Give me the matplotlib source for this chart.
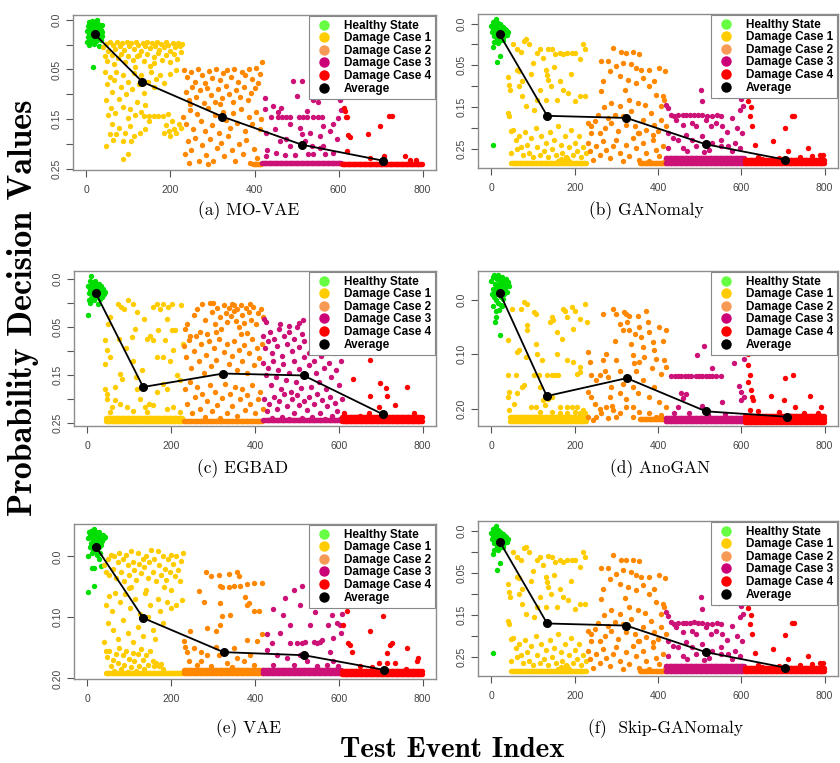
import matplotlib.pyplot as plt
from matplotlib.lines import Line2D
import numpy as np

CLASSES = ["Healthy State", "Damage Case 1", "Damage Case 2", "Damage Case 3", "Damage Case 4"]
POINT_COLORS = ["#00dd00", "#ffcc00", "#ff8800", "#cc1177", "#ff0000"]
LEGEND_COLORS = ["#66ff44", "#ffcc00", "#f79a55", "#cc0077", "#ff0000"]
CAPTIONS = ["(a) MO-VAE", "(b) GANomaly", "(c) EGBAD", "(d) AnoGAN", "(e) VAE", "(f)  Skip-GANomaly"]
XTICKS = [0, 200, 400, 600, 800]
YLAB4 = ["0.0", "0.05", "0.15", "0.25"]
YLAB3 = ["0.0", "0.10", "0.20"]

# ---- (a) MO-VAE  (y in tick-index units, 0 = top label)
A_H = [(1,.22),(3,.12),(4,.35),(5,.05),(7,.28),(8,.15),(9,.42),(10,.08),(11,.30),(12,.20),(13,.02),
       (14,.38),(15,.12),(16,.25),(17,.48),(18,.05),(19,.18),(20,.33),(21,.10),(22,.28),(23,.42),
       (24,.15),(25,.0),(26,.22),(27,.36),(28,.08),(29,.52),(30,.18),(31,.30),(32,.12),(33,.25),
       (34,.40),(35,.20),(36,.32),(37,.10),(38,.24),(2,.45),(6,.50),(16,.94)]
A_D1 = [(40,.55),(46,.48),(52,.62),(57,.45),(63,.50),(68,.58),(73,.45),(79,.52),(85,.47),(90,.60),
        (96,.45),(101,.53),(107,.46),(112,.58),(118,.45),(123,.50),(129,.62),(134,.46),(140,.53),
        (145,.45),(151,.57),(156,.47),(162,.52),(167,.45),(173,.60),(178,.48),(184,.54),(189,.45),
        (195,.50),(200,.62),(206,.46),(211,.55),(217,.47),(222,.52),(228,.48),
        (43,.72),(50,.82),(60,.70),(66,.88),(75,.76),(83,.68),(92,.85),(99,.72),(110,.80),(116,.95),
        (126,.70),(137,.83),(143,.68),(152,.92),(160,.74),(170,.66),(181,.80),(190,.70),(198,.84),
        (208,.68),(215,.78),(225,.64),(120,.72),(160,.86),
        (45,1.05),(50,1.30),(55,1.15),(62,1.45),(66,1.22),(71,1.05),(77,1.60),(82,1.35),(88,1.12),
        (93,1.50),(98,1.25),(104,1.80),(109,1.40),(114,1.08),(120,1.65),(126,1.30),(131,1.12),
        (138,1.48),(146,1.25),(153,1.05),(160,1.35),(166,1.20),(176,1.12),(184,1.28),(200,1.10),
        (214,1.02),(46,1.62),(52,1.92),(58,1.78),(68,1.88),(86,1.76),(100,1.98),(116,1.92),
        (130,1.86),(140,1.72),(150,1.93),(160,1.93),(171,1.93),(182,1.93),(193,1.90),(136,1.94),
        (47,2.55),(56,2.30),(63,2.42),(70,2.30),(78,2.18),(86,2.44),(92,2.28),(98,2.70),(86,2.80),
        (106,2.45),(114,2.35),(127,2.28),(60,2.10),(190,2.12),(196,2.25),(203,2.05),(208,2.20),
        (214,2.28),(220,2.10),(226,2.18),(200,2.35),(184,2.28),(150,2.05),(104,2.15),(140,2.20)]
A_D2 = [(232,1.02),(240,1.15),(250,1.05),(258,1.25),(266,1.0),(275,1.12),(283,1.28),(292,1.03),
        (300,1.18),(309,1.0),(318,1.22),(326,1.08),(335,1.02),(344,1.15),(352,1.0),(361,1.25),
        (370,1.05),(378,1.12),(387,1.0),(395,1.2),(404,.98),(412,1.1),(417,.84),(409,1.28),
        (236,1.45),(244,1.62),(252,1.35),(261,1.55),(270,1.42),(279,1.68),(288,1.38),(296,1.52),
        (305,1.65),(314,1.4),(322,1.58),(331,1.33),(340,1.5),(349,1.66),(357,1.42),(366,1.55),
        (375,1.35),(384,1.62),(392,1.48),(401,1.38),(247,1.7),(318,1.7),
        (230,1.95),(238,2.1),(246,1.82),(254,2.2),(263,1.9),(272,2.05),(281,2.25),(289,1.78),
        (298,2.12),(306,1.92),(315,2.28),(324,1.85),(333,2.02),(342,2.18),(350,1.88),(359,2.08),
        (368,1.8),(377,2.25),(386,1.95),(395,2.1),(403,1.85),(412,2.2),(416,2.0),
        (234,2.7),(242,2.45),(250,2.62),(259,2.38),(268,2.85),(276,2.52),(285,2.72),(294,2.4),
        (302,2.85),(311,2.58),(320,2.48),(328,2.75),(337,2.35),(346,2.62),(354,2.85),(363,2.5),
        (372,2.7),(380,2.42),(389,2.88),(398,2.6),(406,2.78),(245,2.88),(290,2.9)]
A_D3 = [(425,1.57),(425,1.8),(428,2.28),(428,2.75),(430,2.62),(456,1.86),(466,1.95),(492,1.24),
        (500,1.54),(512,1.24),(440,1.95),(455,1.95),(475,1.95),(485,1.95),(505,1.95),(515,1.95),
        (525,1.95),(540,1.95),(550,1.95),(560,1.95),(508,2.18),(512,2.31),(532,2.28),(556,2.35),
        (563,2.14),(579,2.25),(587,2.11),(599,1.98),(603,1.61),(606,1.82),(587,2.68),(563,2.55),
        (540,2.71),(484,2.55),(472,2.72),(452,2.68),(476,2.41),(540,1.61),(550,1.65),(524,1.84),
        (464,1.77),(444,1.74),(484,2.11),(536,2.55),(556,2.58),(567,2.71),(528,2.71),(496,2.72),
        (448,2.2),(460,2.45),(520,2.45),(596,2.4)]
A_D4 = [(613,1.78),(615,1.84),(617,1.96),(620,1.95),(623,2.33),(627,2.36),(671,2.31),(698,2.14),
        (720,1.94),(728,1.94),(708,2.75),(758,2.75),(619,2.65),(676,2.78),(770,2.82),(785,2.82)]
A_FLOOR = [(2, 396, 418, 2.90), (3, 418, 608, 2.88), (4, 608, 800, 2.90)]
A_AVG = [(20,.29),(133,1.25),(323,1.95),(513,2.52),(705,2.84)]

# ---- (b) GANomaly, also used by (f) Skip-GANomaly
B_H = [(0,.05),(2,.2),(3,-.05),(5,.12),(6,.3),(8,0),(9,.18),(10,-.1),(11,.25),(12,.08),(13,.38),
       (14,.15),(15,-.02),(16,.28),(17,.1),(18,.42),(19,.2),(20,.02),(21,.32),(22,.12),(23,.22),
       (24,.05),(25,.35),(26,.16),(27,.26),(28,.08),(29,.4),(30,.18),(31,.3),(32,.12),(34,.22),
       (36,.15),(38,.28),(40,.2),(7,.45),(15,.46),(5,.56),(21,.78),(14,.93),(5,2.92)]
B_D1 = [(40,1.28),(42,1.46),(44,1.58),(40,2.14),(43,2.22),(46,2.58),(48,3.1),(52,.5),(62,.62),
        (70,.69),(78,.42),(84,.38),(90,.5),(62,1.1),(66,1.13),(74,1.38),(66,1.5),(74,1.74),
        (82,1.98),(110,.7),(116,.62),(124,.82),(132,1.1),(137,.61),(145,.62),(153,.74),(165,.7),
        (173,.74),(181,.7),(193,.7),(201,.7),(213,.86),(221,.5),(225,.62),(133,1.22),(137,1.34),
        (143,1.5),(117,1.58),(130,1.82),(165,1.38),(173,1.58),(185,1.66),(201,1.86),(213,1.74),
        (224,1.74),(157,1.82),(110,1.82),(102,2.06),(95,1.2),(100,.95),(150,1.05),(190,1.2),
        (52,2.55),(58,2.8),(62,3.0),(66,2.7),(72,2.95),(76,3.15),(80,2.6),(86,2.9),(90,3.1),
        (96,2.75),(100,3.2),(106,2.5),(110,2.95),(116,3.15),(120,2.7),(126,3.05),(130,2.85),
        (136,3.2),(140,2.6),(146,3.0),(150,2.8),(156,3.15),(160,2.45),(166,2.9),(170,3.1),
        (176,2.7),(180,3.2),(186,2.95),(190,2.55),(196,3.15),(200,2.85),(206,3.05),(210,2.7),
        (216,3.2),(220,2.95),(226,3.1),(168,3.25),(174,3.28),(182,3.22),(160,3.3),(186,3.3)]
B_D2 = [(292,.58),(264,.89),(280,.89),(312,.69),(322,.7),(340,.69),(354,.72),(336,.98),(347,1.06),
        (359,1.1),(379,1.1),(402,1.06),(417,1.13),(316,.94),(300,1.02),(284,1.14),(267,1.38),
        (264,1.62),(308,1.26),(327,1.34),(347,1.42),(363,1.3),(379,1.5),(391,1.38),(411,1.74),
        (415,1.82),(407,1.98),(232,2.38),(240,2.46),(248,2.34),(260,2.62),(272,2.5),(280,2.26),
        (288,2.38),(296,2.18),(308,1.98),(316,2.22),(324,2.42),(336,2.1),(344,2.46),(352,2.62),
        (363,2.3),(371,2.54),(383,2.14),(391,2.42),(399,2.58),(407,2.3),(419,2.46),(331,1.82),
        (351,1.9),(288,1.9),(232,2.86),(236,3.06),(244,3.26),(252,2.94),(260,3.14),(268,2.82),
        (276,3.02),(284,3.22),(292,2.94),(300,2.78),(308,3.1),(316,3.3),(324,2.9),(331,3.18),
        (339,2.74),(347,2.98),(355,3.26),(363,2.86),(371,3.1),(379,3.3),(387,2.78),(395,3.02),
        (403,3.18),(411,2.94),(417,3.3),(240,2.62),(304,2.58),(355,2.62),(387,2.66),(256,2.2),
        (270,2.0),(320,1.6),(395,1.7),(368,1.95)]
B_D3 = [(419,1.94),(423,2.02),(431,2.18),(439,2.22),(447,2.2),(459,2.2),(467,2.2),(476,2.2),
        (486,2.18),(497,2.2),(506,2.2),(518,2.22),(530,2.22),(542,2.2),(550,2.22),(502,1.58),
        (506,1.86),(442,2.3),(459,2.42),(482,2.38),(490,2.46),(514,2.3),(526,2.46),(538,2.38),
        (554,2.46),(578,2.26),(597,2.06),(605,1.98),(589,2.5),(601,2.62),(423,2.62),(435,2.74),
        (447,2.78),(467,2.66),(482,2.78),(506,2.7),(530,2.86),(550,2.78),(569,2.94),(585,2.86),
        (597,2.98),(423,2.98),(459,2.98),(490,2.94),(522,3.02),(550,2.94),(578,3.06),(546,1.73),
        (565,2.6),(600,1.8),(470,3.05),(510,3.08)]
B_D4 = [(616,1.85),(620,2.22),(622,2.0),(625,2.45),(632,2.92),(676,2.82),(704,2.49),(712,3.05),
        (722,2.21),(726,2.21),(760,2.98),(788,3.16),(640,3.2),(690,3.22),(740,3.2),(770,3.18),
        (795,3.15),(650,3.25)]
B_FLOOR = [(1, 48, 228, 3.33), (2, 356, 418, 3.33), (3, 418, 608, 3.22), (3, 418, 608, 3.33),
           (4, 608, 800, 3.27), (4, 608, 800, 3.33)]
B_AVG = [(20,.26),(134,2.21),(324,2.26),(514,2.89),(705,3.26)]

# ---- (c) EGBAD
C_H = [(2,.15),(4,.3),(5,.05),(7,.22),(8,-.06),(9,.4),(10,.12),(11,.28),(12,.18),(13,.35),(14,.08),
       (15,.25),(16,.45),(17,.15),(18,.32),(19,.05),(20,.22),(21,.38),(22,.12),(23,.28),(24,.18),
       (25,.53),(26,.35),(27,.1),(28,.25),(29,.42),(30,.2),(31,.3),(32,.15),(34,.28),(36,.38),
       (38,.22),(40,.32),(42,.28),(2,.76),(3,.45),(6,.5)]
C_D1 = [(41,1.28),(46,1.49),(43,1.77),(41,2.29),(46,2.39),(47,2.49),(54,.8),(55,1.63),(65,2.25),
        (72,.52),(80,.58),(87,.62),(75,1.25),(78,1.98),(82,2.08),(98,.45),(110,.52),(118,.69),
        (114,1.04),(106,1.21),(110,1.7),(116,2.04),(118,2.29),(126,2.49),(138,2.67),(146,2.6),
        (134,.83),(142,1.25),(150,1.2),(157,.59),(165,.52),(173,.62),(181,.52),(193,.59),(201,.52),
        (189,.83),(201,1.07),(209,1.07),(205,1.49),(185,1.28),(169,1.07),(157,1.28),(165,1.63),
        (181,1.63),(197,1.7),(213,2.01),(220,2.11),(224,.55),(227,1.35),(181,2.18),(189,2.29),
        (165,2.36),(157,2.63),(142,2.77),(110,2.74),(94,2.67),(78,2.6),(67,2.53),(59,2.67),
        (55,2.77),(189,2.7),(205,2.67),(220,2.77),(50,.95),(92,1.45),(130,1.9)]
C_D2 = [(232,1.05),(238,.95),(246,1.2),(254,.75),(262,.62),(268,1.1),(274,.52),(280,.85),(286,1.15),
        (292,.5),(298,.7),(304,.95),(310,.6),(316,.8),(320,1.05),(326,.55),(330,.72),(334,.9),
        (338,.6),(342,.78),(346,.52),(350,.68),(354,.88),(358,.62),(362,1.0),(366,.55),(370,.75),
        (374,.92),(378,.6),(382,1.12),(386,.7),(390,.85),(396,.58),(402,.95),(408,.72),(414,.62),
        (418,.8),(300,.5),(350,.55),(388,.52),
        (230,1.4),(236,1.62),(242,1.28),(248,1.85),(254,1.5),(260,1.2),(266,1.72),(272,1.35),
        (278,1.95),(284,1.58),(290,1.3),(296,1.82),(302,1.45),(308,1.68),(314,1.25),(320,2.0),
        (326,1.52),(332,1.35),(338,1.78),(344,1.6),(350,1.3),(356,1.9),(362,1.48),(368,1.7),
        (374,1.38),(380,1.95),(386,1.55),(392,1.25),(398,1.8),(404,1.45),(410,1.65),(416,1.35),
        (306,1.1),(366,1.15),
        (232,2.3),(238,2.6),(244,2.15),(250,2.8),(256,2.45),(262,2.25),(268,2.7),(274,2.4),
        (280,2.88),(286,2.55),(292,2.2),(298,2.75),(304,2.35),(310,2.62),(316,2.9),(322,2.48),
        (328,2.18),(334,2.78),(340,2.4),(346,2.65),(352,2.25),(358,2.85),(364,2.5),(370,2.3),
        (376,2.72),(382,2.42),(388,2.6),(394,2.2),(400,2.8),(406,2.5),(412,2.35),(418,2.7)]
C_D3 = [(422,.83),(426,.9),(420,1.2),(424,1.45),(430,1.3),(436,1.1),(440,1.55),(446,1.25),(452,1.4),
        (458,1.05),(464,1.6),(470,1.2),(476,1.35),(482,1.1),(488,1.5),(494,1.25),(500,1.0),
        (506,1.42),(512,1.15),(518,1.3),(460,.95),(480,.98),(505,.92),(515,.85),
        (420,1.75),(426,2.0),(432,1.85),(438,2.2),(444,1.7),(450,2.05),(456,1.9),(462,2.3),
        (468,1.78),(474,2.1),(480,1.95),(486,2.35),(492,1.72),(498,2.15),(504,1.88),(510,2.28),
        (516,1.62),(522,2.0),(528,1.8),(534,2.25),(540,1.7),(546,1.95),(552,2.15),(558,1.6),
        (564,1.85),(570,2.3),(576,1.75),(582,2.05),(588,1.55),(594,1.9),(600,2.2),(606,1.7),
        (530,1.55),(560,1.52),(596,1.5),
        (422,2.5),(428,2.75),(434,2.6),(440,2.9),(446,2.45),(452,2.7),(458,2.55),(464,2.88),
        (470,2.4),(476,2.65),(482,2.92),(488,2.5),(494,2.78),(500,2.42),(506,2.62),(512,2.9),
        (518,2.55),(524,2.72),(530,2.45),(536,2.88),(542,2.6),(548,2.4),(554,2.8),(560,2.52),
        (566,2.92),(572,2.65),(578,2.45),(584,2.85),(590,2.58),(596,2.75),(602,2.92),(608,2.5)]
C_D4 = [(633,2.08),(675,1.68),(675,2.43),(698,2.17),(713,2.27),(714,2.43),(697,2.67),(734,2.62),
        (762,2.25),(671,2.79),(612,2.8),(650,2.85),(780,2.8)]
C_FLOOR = [(1, 44, 228, 2.89), (1, 44, 228, 2.95), (2, 230, 418, 2.95), (3, 420, 608, 2.94),
           (4, 608, 800, 2.88), (4, 608, 800, 2.95)]
C_AVG = [(20,.3),(133,2.25),(324,1.97),(516,2.01),(706,2.82)]

# ---- (d) AnoGAN
D_H = [(0,-.35),(2,-.1),(3,-.42),(5,-.2),(6,-.45),(7,-.05),(8,-.3),(9,-.15),(10,-.4),(11,.0),
       (12,-.25),(13,-.38),(14,-.1),(15,-.2),(16,-.45),(17,.05),(18,-.3),(19,-.12),(20,-.38),
       (21,-.22),(22,.1),(23,-.05),(24,-.3),(25,-.42),(26,-.15),(27,-.02),(28,-.25),(29,-.35),
       (30,-.1),(32,-.2),(34,-.38),(36,-.28),(38,-.15),(40,-.32),(42,-.25),(5,.12),(12,.2),
       (18,.18),(25,.12),(10,.32),(8,.41),(20,.64)]
D_D1 = [(78,.04),(86,.07),(70,.17),(50,.17),(102,.23),(106,.26),(86,.47),(62,.96),(66,.93),(82,1.05),
        (40,.73),(40,1.39),(58,1.39),(42,1.69),(40,1.79),(42,2.03),(54,1.91),(62,1.72),(74,1.6),
        (78,1.57),(102,1.39),(114,1.39),(133,1.39),(145,1.39),(153,1.39),(161,1.39),(117,1.6),
        (125,1.85),(129,1.94),(137,1.82),(145,1.79),(141,.41),(149,.38),(145,.32),(157,.59),
        (169,.72),(173,.17),(177,.2),(181,.32),(193,.14),(201,.2),(197,.53),(213,.35),(225,.07),
        (229,.41),(86,.56),(106,.81),(110,.99),(122,1.11),(157,.99),(181,1.11),(197,1.14),
        (213,1.24),(205,1.36),(213,1.33),(165,1.97),(181,1.97),(193,1.97),(205,1.97),(221,2.03),
        (94,1.97),(106,1.97),(117,2.06),(145,2.06),(165,2.09),(181,2.09),(201,2.06),(213,2.09),
        (225,2.09)]
D_D2 = [(232,.96),(236,1.14),(240,1.39),(232,1.69),(240,1.79),(252,1.48),(260,1.39),(267,.26),
        (267,1.11),(272,1.3),(276,.99),(280,1.42),(284,1.79),(288,1.6),(292,.17),(300,.26),
        (296,.75),(300,1.11),(308,1.3),(308,.44),(316,.56),(319,.23),(323,.26),(325,.41),(331,.56),
        (335,.81),(339,1.02),(343,1.17),(347,1.3),(351,.29),(355,.5),(359,.68),(363,.87),(367,1.05),
        (375,.41),(379,.59),(387,.78),(391,.93),(395,1.08),(403,.5),(411,.75),(419,.56),(419,1.24),
        (407,1.36),(415,1.11),(339,1.6),(351,1.72),(363,1.48),(379,1.79),(391,1.6),(403,1.88),
        (419,1.97),(308,1.72),(323,1.82),(339,1.97),(248,1.91),(260,2.0),(276,1.97),(292,2.03),
        (308,2.09),(323,1.97),(264,2.09),(252,2.15),(280,2.18),(300,2.15),(232,2.15),(244,2.21),
        (379,2.09),(395,2.15),(407,2.12),(339,2.15),(355,2.06),(330,.3),(345,.62),(370,.2),
        (385,1.25),(355,1.15),(290,1.95),(315,1.55)]
D_D3 = [(431,1.4),(440,1.4),(448,1.4),(456,1.4),(464,1.4),(472,1.4),(480,1.4),(490,1.4),(498,1.4),
        (506,1.4),(514,1.4),(522,1.4),(530,1.4),(540,1.4),(550,1.4),(510,.85),(494,1.01),(530,1.25),
        (455,1.72),(467,1.74),(459,1.81),(506,1.95),(554,1.88),(582,1.17),(606,1.08),(594,1.59),
        (598,1.69),(606,1.79),(447,1.97),(475,2.09),(439,2.09),(600,1.85),(560,2.1),(520,2.12)]
D_D4 = [(616,.99),(617,1.19),(620,1.39),(617,1.51),(622,1.66),(625,1.79),(629,1.85),(671,1.77),
        (705,1.44),(725,1.39),(703,1.85),(729,1.97),(792,1.97),(764,1.76),(784,2.08),(640,2.05),
        (690,2.06),(750,2.08),(620,2.02)]
D_FLOOR = [(1, 44, 228, 2.16), (1, 44, 228, 2.22), (2, 356, 418, 2.2), (3, 418, 608, 2.17),
           (3, 418, 608, 2.22), (4, 608, 800, 2.14), (4, 608, 800, 2.2), (4, 608, 800, 2.24)]
D_AVG = [(20,-.13),(133,1.77),(325,1.44),(515,2.05),(709,2.15)]

# ---- (e) VAE
E_H = [(2,-.3),(4,-.4),(5,-.15),(6,-.35),(8,-.22),(9,-.42),(10,-.05),(11,-.3),(12,-.18),(13,-.38),
       (14,-.1),(15,-.45),(16,-.25),(17,-.33),(18,-.08),(19,-.2),(20,-.4),(21,-.28),(22,-.12),
       (23,-.35),(24,-.02),(25,-.22),(26,-.3),(27,-.15),(28,-.4),(29,-.05),(30,-.25),(31,-.32),
       (32,-.18),(34,-.3),(36,-.25),(38,-.35),(40,-.3),(42,-.32),(2,0),(10,.19),(16,.19),(16,.48),
       (2,.59),(32,.16),(28,.05)]
E_D1 = [(40,.15),(44,.25),(48,.05),(52,.3),(56,-.02),(60,.2),(64,.0),(68,.35),(72,.1),(76,-.05),
        (80,.25),(84,.05),(88,.4),(92,-.02),(96,.15),(100,.3),(104,-.08),(108,.1),(112,.22),
        (116,.38),(120,-.05),(124,.12),(128,.28),(132,.05),(136,.18),(140,.0),(144,.35),(148,.1),
        (152,-.1),(156,.25),(160,.05),(164,.4),(168,-.08),(172,.15),(176,.3),(180,.0),(184,.2),
        (188,.38),(192,.05),(196,.25),(200,-.02),(204,.12),(208,.32),(212,.0),(216,.22),(220,.4),
        (224,.08),(228,-.05),(182,.5),(200,.55),(140,.55),(100,.52),
        (44,.8),(48,1.1),(52,.65),(58,.9),(62,1.2),(66,.6),(72,1.35),(78,.75),(84,1.05),(90,.62),
        (96,1.25),(102,.85),(108,1.4),(114,.7),(120,1.15),(126,.95),(132,1.3),(138,.6),(144,1.0),
        (150,.8),(156,1.2),(162,1.35),(168,.7),(174,.9),(180,1.1),(190,.75),(200,.85),(212,.8),
        (225,.72),(105,.5),
        (46,1.65),(52,1.55),(56,1.8),(60,1.7),(64,1.88),(68,1.6),(72,1.75),(76,1.5),(80,1.85),
        (84,1.62),(88,1.78),(92,1.55),(96,1.9),(100,1.68),(104,1.82),(108,1.58),(112,1.72),
        (116,1.88),(120,1.6),(124,1.8),(128,1.52),(132,1.7),(136,1.85),(140,1.62),(144,1.78),
        (150,1.55),(156,1.72),(160,1.8),(164,1.75),(168,1.78),(172,1.8),(176,1.76),(180,1.85),
        (40,1.4),(44,1.55)]
E_D2 = [(283,.26),(294,.33),(313,.31),(337,.29),(357,.26),(361,.33),(317,.49),(321,.51),(337,.51),
        (349,.49),(381,.46),(397,.44),(417,.44),(377,.66),(381,.8),(409,.9),(397,.89),(266,.57),
        (278,.74),(317,.77),(341,.96),(321,.98),(365,.49),(385,.77),
        (230,1.39),(234,1.48),(238,1.56),(242,1.72),(254,1.5),(270,1.56),(286,1.61),(306,1.48),
        (313,1.61),(349,1.5),(357,1.67),(381,1.37),(405,1.39),(417,1.28),(286,1.17),(317,1.12),
        (306,1.23),(246,1.23),(262,1.78),(294,1.8),(333,1.75),(373,1.72),(397,1.78),(270,1.72),
        (345,1.82),(389,1.61)]
E_D3 = [(492,.55),(512,.49),(472,.68),(444,.87),(468,.96),(484,1.12),(460,1.26),(429,1.28),(440,1.42),
        (508,.79),(544,.92),(532,1.12),(512,1.42),(548,1.42),(560,1.37),(575,1.12),(583,.96),
        (595,1.09),(603,1.12),(607,.95),(606,1.26),(587,1.34),(429,1.53),(484,1.42),(500,1.42),
        (520,1.41),(540,1.41),(556,1.41),(579,1.56),(476,1.67),(587,1.72),(452,1.61),(492,1.78),
        (524,1.72),(548,1.8),(571,1.78),(599,1.8),(508,1.61),(444,1.78)]
E_D4 = [(619,.9),(611,1.12),(623,1.42),(627,1.45),(631,1.56),(675,1.23),(705,.98),(714,1.58),
        (722,1.45),(726,1.42),(762,1.5),(697,1.75),(714,1.75),(734,1.75),(790,1.67),(786,1.72),
        (650,1.8),(680,1.82),(760,1.84)]
E_FLOOR = [(1, 44, 228, 1.91), (2, 230, 418, 1.87), (2, 230, 418, 1.91), (3, 418, 608, 1.86),
           (3, 418, 608, 1.91), (4, 608, 800, 1.88), (4, 608, 800, 1.92)]
E_AVG = [(20,-.16),(133,1.01),(325,1.57),(517,1.62),(708,1.86)]

# axes rectangles in figure pixels: left, top, right, bottom
PANELS = [
    dict(groups=[A_H, A_D1, A_D2, A_D3, A_D4], floor=A_FLOOR, avg=A_AVG, box=(73, 15, 436, 170),
         ylim=(3.03, -0.10), labels=YLAB4),
    dict(groups=[B_H, B_D1, B_D2, B_D3, B_D4], floor=B_FLOOR, avg=B_AVG, box=(478, 14, 838, 168),
         ylim=(3.46, -0.23), labels=YLAB4),
    dict(groups=[C_H, C_D1, C_D2, C_D3, C_D4], floor=C_FLOOR, avg=C_AVG, box=(74, 271, 436, 426),
         ylim=(3.06, -0.16), labels=YLAB4),
    dict(groups=[D_H, D_D1, D_D2, D_D3, D_D4], floor=D_FLOOR, avg=D_AVG, box=(478, 271, 838, 426),
         ylim=(2.32, -0.53), labels=YLAB3),
    dict(groups=[E_H, E_D1, E_D2, E_D3, E_D4], floor=E_FLOOR, avg=E_AVG, box=(74, 524, 436, 679),
         ylim=(2.01, -0.53), labels=YLAB3),
    dict(groups=[B_H, B_D1, B_D2, B_D3, B_D4], floor=B_FLOOR, avg=B_AVG, box=(478, 521, 838, 676),
         ylim=(3.46, -0.23), labels=YLAB4),
]
CAP_POS = [(249, 211), (646, 211), (243, 469), (660, 469), (248, 729), (666, 729)]

W, H = 840, 763
fig = plt.figure(figsize=(W / 100, H / 100), dpi=100)
tick_font = dict(family="Liberation Sans", size=7.5)

for i, p in enumerate(PANELS):
    l, t, r, b = p["box"]
    ax = fig.add_axes([l / W, 1 - b / H, (r - l) / W, (b - t) / H])
    for k, pts in enumerate(p["groups"]):
        xs = [q[0] for q in pts]
        ys = [q[1] for q in pts]
        for c, s, e, yv in p["floor"]:
            if c == k:
                fx = np.arange(s, e, 2)
                xs += list(fx)
                ys += [yv] * len(fx)
        ax.scatter(xs, ys, s=15, color=POINT_COLORS[k], linewidths=0, zorder=2)
    ax.plot([q[0] for q in p["avg"]], [q[1] for q in p["avg"]], color="black", lw=1.3,
            marker="o", markersize=5.5, zorder=3)

    ax.set_xlim(-32, 832)
    ax.set_ylim(*p["ylim"])
    n = len(p["labels"])
    ax.set_xticks(XTICKS)
    ax.set_xticklabels([str(v) for v in XTICKS], fontdict=tick_font, color="#444444")
    ax.set_yticks(range(n))
    ax.set_yticklabels(p["labels"], fontdict=tick_font, color="#444444", rotation=90, va="center")
    if n == 4:
        ax.set_yticks([0.5, 1.5, 2.5], minor=True)
    ax.tick_params(which="both", direction="out", length=5, width=0.8, color="#555555")
    ax.tick_params(axis="x", pad=6)
    ax.tick_params(axis="y", pad=3)
    for sp in ax.spines.values():
        sp.set_color("#8c8c8c")
        sp.set_linewidth(1.0)

    handles = [Line2D([], [], linestyle="none", marker="o", markersize=7.5, color=c,
                      markeredgewidth=0) for c in LEGEND_COLORS + ["black"]]
    leg = ax.legend(handles, CLASSES + ["Average"], loc="upper right", borderaxespad=0.05,
                    prop=dict(family="Liberation Sans", weight="bold", size=8.5),
                    frameon=True, fancybox=False, framealpha=1, edgecolor="#888888",
                    handlelength=1.85, handletextpad=0.77, labelspacing=0.05, borderpad=0.35)
    leg.get_frame().set_linewidth(0.8)
    leg.set_zorder(5)

    cx, cy = CAP_POS[i]
    fig.text(cx / W, 1 - cy / H, CAPTIONS[i], family="cmr10", size=12.5, ha="center", va="center")

fig.text(452 / W, 1 - 750 / H, "Test Event Index", family="cmb10", size=21, ha="center", va="center")
fig.text(23 / W, 1 - 308 / H, "Probability Decision Values", family="cmb10", size=24.5,
         rotation=90, ha="center", va="center")

fig.savefig("out.png", dpi=100)
